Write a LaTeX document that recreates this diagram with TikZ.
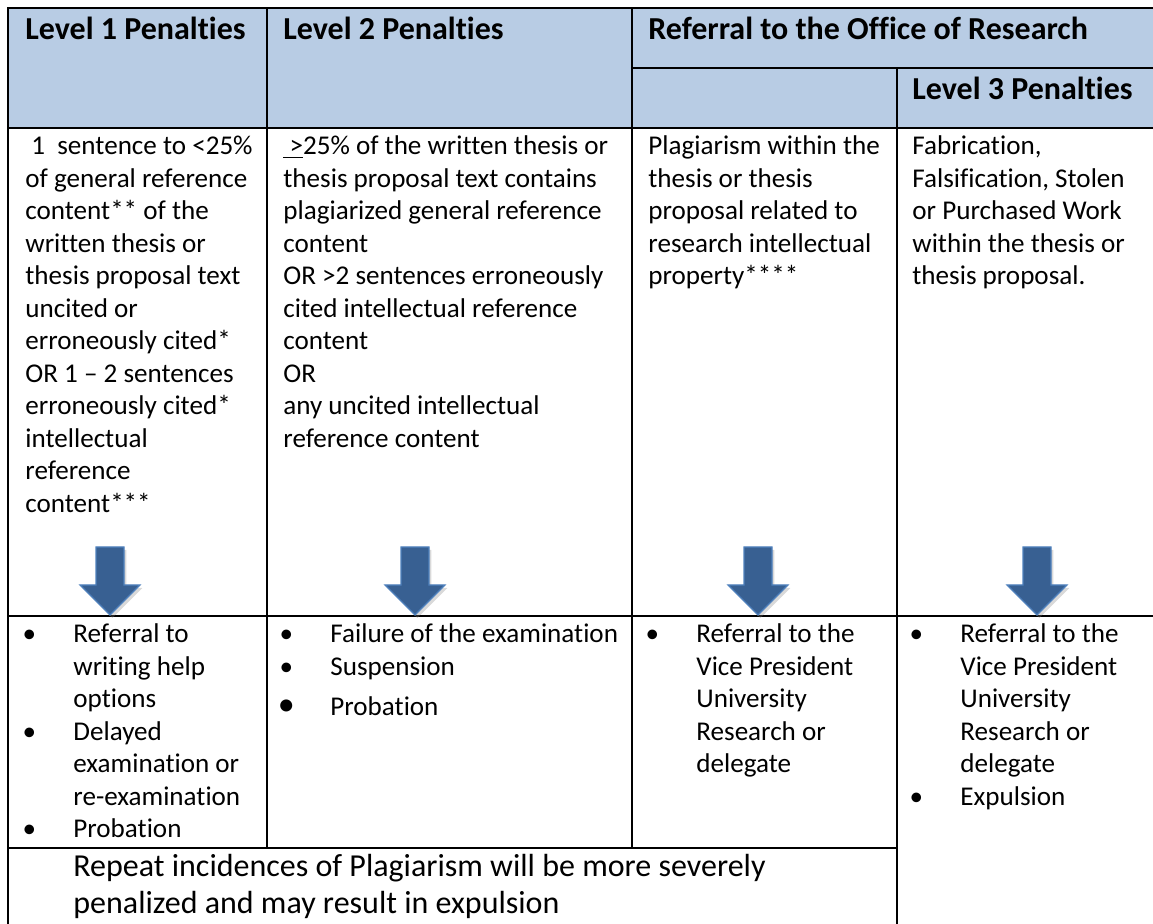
\documentclass[tikz,border=0pt]{standalone}
\usepackage{fontspec}
\setmainfont{Carlito}[Ligatures={TeX,NoCommon}]
\usetikzlibrary{shadows}

\definecolor{headblue}{RGB}{184,204,228}
\definecolor{arrowfill}{RGB}{56,96,146}
\definecolor{arrowedge}{RGB}{79,129,189}

\newcommand{\bodyfont}{\fontsize{13.55pt}{16.25pt}\selectfont}
\newcommand{\headfont}{\fontsize{16pt}{19pt}\selectfont\bfseries}
\newcommand{\notefont}{\fontsize{16pt}{18.5pt}\selectfont}
\newcommand{\bul}{\llap{\makebox[44pt]{\textbullet}}}
\newcommand{\bigbul}{\llap{\makebox[44pt]{\fontsize{17pt}{17pt}\selectfont\textbullet}}}

\begin{document}
\begin{tikzpicture}[x=0.5pt,y=-0.5pt,
  grid/.style={line width=1.2pt},
  cell/.style={anchor=base west,inner sep=0pt,font=\bodyfont},
  head/.style={anchor=base west,inner sep=0pt,font=\headfont},
  blockarrow/.style={fill=arrowfill,draw=arrowedge,line width=0.6pt,
    drop shadow={opacity=0.3,shadow xshift=1.2pt,shadow yshift=-1.5pt}}]
\useasboundingbox (0,0) rectangle (1153,924);

% header band
\fill[headblue] (8,8) rectangle (1153,128);

% table rules
\draw[grid] (1153,8) -- (8,8) -- (8,924);
\draw[grid] (267,8) -- (267,848);
\draw[grid] (632,8) -- (632,848);
\draw[grid] (897,68) -- (897,924);
\draw[grid] (632,68) -- (1153,68);
\draw[grid] (8,128) -- (1153,128);
\draw[grid] (8,616) -- (1153,616);
\draw[grid] (8,848) -- (897,848);

% headings
\node[head] (lv1) at (25,40) {Level 1 Penalties};
\node[head] (lv2) at (283,40) {Level 2 Penalties};
\node[head] (ref) at (648,40) {Referral to the Office of Research};
\node[head] (lv3) at (912,100) {Level 3 Penalties};

% offences
\node[cell] (off1) at (25,155) {\begin{tabular}[t]{@{}l@{}}
\hspace{3pt}1\ \ sentence to <25\%\\ of general reference\\ content** of the\\
written thesis or\\ thesis proposal text\\ uncited or\\ erroneously cited*\\
OR 1 \textendash{} 2 sentences\\ erroneously cited*\\ intellectual\\ reference\\ content***
\end{tabular}};
\node[cell] (off2) at (283,155) {\begin{tabular}[t]{@{}l@{}}
\underline{\ >}25\% of the written thesis or\\ thesis proposal text contains\\
plagiarized general reference\\ content\\ OR >2 sentences erroneously\\
cited intellectual reference\\ content\\ OR\\ any uncited intellectual\\
reference content
\end{tabular}};
\node[cell] (off3) at (648,155) {\begin{tabular}[t]{@{}l@{}}
Plagiarism within the\\ thesis or thesis\\ proposal related to\\
research intellectual\\ property****
\end{tabular}};
\node[cell] (off4) at (912,155) {\begin{tabular}[t]{@{}l@{}}
Fabrication,\\ Falsification, Stolen\\ or Purchased Work\\
within the thesis or\\ thesis proposal.
\end{tabular}};

% arrows
\foreach \cx in {110,415,758,1037}
  \filldraw[blockarrow] (\cx-14,547) -- (\cx+14,547) -- (\cx+14,585) -- (\cx+30,585)
    -- (\cx,615) -- (\cx-30,585) -- (\cx-14,585) -- cycle;

% penalties
\node[cell] (pen1) at (73,643) {\begin{tabular}[t]{@{}l@{}}
\bul Referral to\\ writing help\\ options\\ \bul Delayed\\ examination or\\
re-examination\\ \bul Probation
\end{tabular}};
\node[cell] (pen2) at (330,643) {\begin{tabular}[t]{@{}l@{}}
\bul Failure of the examination\\ \bul Suspension\\[4pt] \bigbul Probation
\end{tabular}};
\node[cell] (pen3) at (696,643) {\begin{tabular}[t]{@{}l@{}}
\bul Referral to the\\ Vice President\\ University\\ Research or\\ delegate
\end{tabular}};
\node[cell] (pen4) at (960,643) {\begin{tabular}[t]{@{}l@{}}
\bul Referral to the\\ Vice President\\ University\\ Research or\\ delegate\\
\bul Expulsion
\end{tabular}};

% repeat note
\node[cell,font=\notefont] (note) at (73,877) {\begin{tabular}[t]{@{}l@{}}
Repeat incidences of Plagiarism will be more severely\\
penalized and may result in expulsion
\end{tabular}};
\end{tikzpicture}
\end{document}
